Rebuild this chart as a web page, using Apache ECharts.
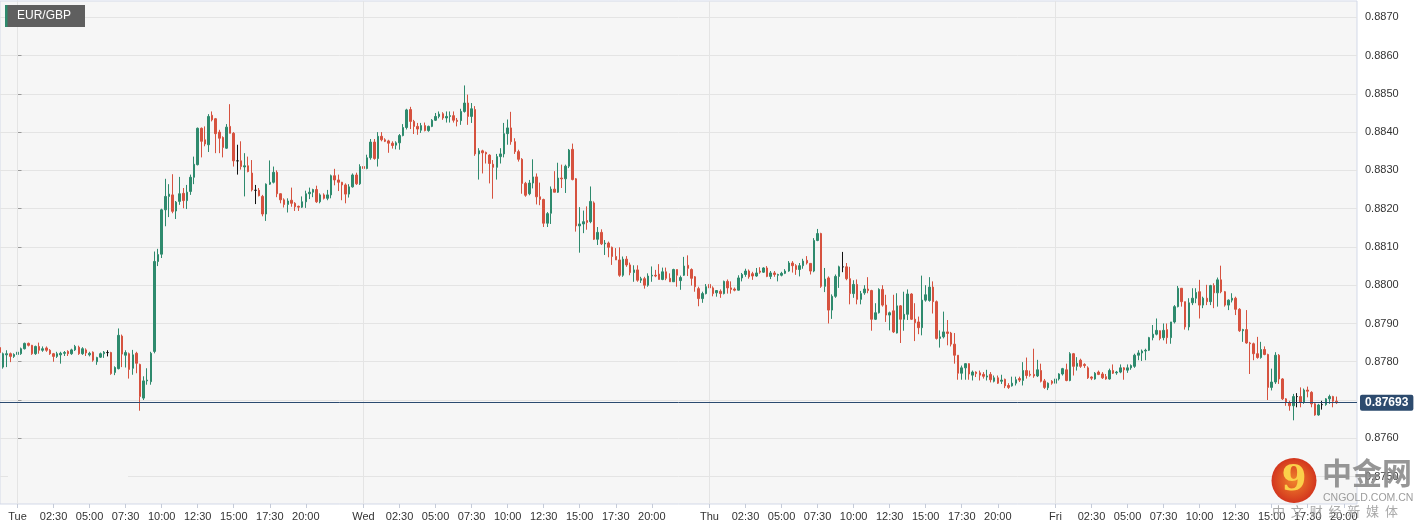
<!DOCTYPE html>
<html><head><meta charset="utf-8">
<script src="https://cdn.jsdelivr.net/npm/echarts@6/dist/echarts.min.js"></script>
<style>html,body{margin:0;padding:0;background:#fff;}#c{width:1428px;height:530px;}</style>
</head><body><div id="c"></div>
<script>
// EUR/GBP, 15-minute candles. x = slot index, slot 0 = Tue 00:00; first candle Mon 22:45
const symbolName = 'EUR/GBP';
const firstSlot = -5;
const opens = [
0.87837,0.87786,0.87818,0.87821,0.87814,0.87819,0.87821,0.87834,0.87848,0.87843,
0.87821,0.87840,0.87830,0.87836,0.87830,0.87821,0.87814,0.87818,0.87822,0.87827,
0.87821,0.87831,0.87838,0.87821,0.87831,0.87818,0.87825,0.87800,0.87812,0.87821,
0.87824,0.87824,0.87772,0.87782,0.87867,0.87817,0.87821,0.87783,0.87822,0.87793,
0.87705,0.87750,0.87748,0.87827,0.88062,0.88081,0.88197,0.88232,0.88236,0.88194,
0.88219,0.88240,0.88221,0.88245,0.88282,0.88315,0.88410,0.88380,0.88367,0.88444,
0.88435,0.88400,0.88386,0.88358,0.88415,0.88397,0.88325,0.88325,0.88309,0.88312,
0.88293,0.88248,0.88248,0.88232,0.88186,0.88264,0.88269,0.88295,0.88239,0.88223,
0.88211,0.88222,0.88214,0.88206,0.88204,0.88218,0.88239,0.88243,0.88250,0.88218,
0.88236,0.88227,0.88236,0.88286,0.88275,0.88269,0.88262,0.88238,0.88257,0.88288,
0.88265,0.88310,0.88305,0.88333,0.88374,0.88331,0.88389,0.88380,0.88377,0.88371,
0.88366,0.88372,0.88391,0.88412,0.88459,0.88428,0.88415,0.88405,0.88417,0.88404,
0.88415,0.88431,0.88441,0.88448,0.88437,0.88441,0.88443,0.88431,0.88430,0.88454,
0.88476,0.88441,0.88459,0.88343,0.88351,0.88347,0.88340,0.88316,0.88308,0.88336,
0.88343,0.88396,0.88411,0.88375,0.88349,0.88329,0.88266,0.88239,0.88267,0.88283,
0.88231,0.88224,0.88162,0.88188,0.88251,0.88243,0.88280,0.88278,0.88311,0.88355,
0.88278,0.88155,0.88160,0.88169,0.88166,0.88215,0.88120,0.88138,0.88108,0.88110,
0.88099,0.88075,0.88066,0.88026,0.88068,0.88053,0.88033,0.88040,0.88013,0.88017,
0.88000,0.88024,0.88026,0.88029,0.88015,0.88035,0.88018,0.88009,0.88041,0.88012,
0.88026,0.88052,0.88041,0.88022,0.87991,0.87965,0.87978,0.88002,0.87993,0.87980,
0.87984,0.87978,0.88010,0.87993,0.87990,0.87987,0.88019,0.88028,0.88037,0.88030,
0.88024,0.88037,0.88034,0.88045,0.88023,0.88032,0.88026,0.88026,0.88031,0.88037,
0.88058,0.88051,0.88041,0.88051,0.88065,0.88057,0.88037,0.88117,0.88135,0.87997,
0.88019,0.87935,0.87971,0.88023,0.88048,0.88048,0.88017,0.87978,0.88002,0.87963,
0.87980,0.87990,0.87986,0.87911,0.87928,0.87989,0.87948,0.87922,0.87933,0.87875,
0.87946,0.87911,0.87924,0.87977,0.87911,0.87904,0.87889,0.87961,0.87960,0.87995,
0.87957,0.87861,0.87865,0.87878,0.87875,0.87846,0.87817,0.87770,0.87784,0.87795,
0.87765,0.87773,0.87771,0.87767,0.87760,0.87767,0.87749,0.87758,0.87749,0.87754,
0.87738,0.87737,0.87744,0.87756,0.87751,0.87777,0.87767,0.87767,0.87763,0.87777,
0.87750,0.87732,0.87749,0.87744,0.87755,0.87768,0.87779,0.87751,0.87821,0.87788,
0.87804,0.87793,0.87784,0.87760,0.87755,0.87773,0.87768,0.87761,0.87755,0.87777,
0.87771,0.87773,0.87784,0.87778,0.87784,0.87788,0.87817,0.87823,0.87828,0.87830,
0.87863,0.87872,0.87881,0.87863,0.87884,0.87863,0.87904,0.87944,0.87992,0.87957,
0.87891,0.87954,0.87966,0.87983,0.87948,0.87966,0.87957,0.87999,0.87980,0.88014,
0.87983,0.87948,0.87961,0.87966,0.87937,0.87881,0.87884,0.87849,0.87847,0.87821,
0.87811,0.87832,0.87819,0.87733,0.87747,0.87817,0.87755,0.87703,0.87693,0.87685,
0.87709,0.87709,0.87694,0.87726,0.87720,0.87690,0.87661,0.87688,0.87688,0.87703,
0.87709,0.87697];
const closes = [
0.87824,0.87821,0.87821,0.87814,0.87819,0.87825,0.87834,0.87848,0.87843,0.87821,
0.87840,0.87830,0.87834,0.87830,0.87821,0.87814,0.87821,0.87822,0.87824,0.87821,
0.87831,0.87840,0.87821,0.87834,0.87823,0.87822,0.87804,0.87811,0.87821,0.87825,
0.87824,0.87769,0.87785,0.87869,0.87820,0.87824,0.87780,0.87818,0.87796,0.87709,
0.87750,0.87752,0.87822,0.88062,0.88080,0.88197,0.88232,0.88238,0.88193,0.88217,
0.88239,0.88221,0.88243,0.88282,0.88316,0.88410,0.88376,0.88369,0.88441,0.88432,
0.88396,0.88384,0.88360,0.88413,0.88397,0.88325,0.88325,0.88310,0.88312,0.88297,
0.88249,0.88248,0.88234,0.88186,0.88264,0.88269,0.88295,0.88239,0.88223,0.88211,
0.88220,0.88214,0.88205,0.88204,0.88218,0.88239,0.88243,0.88250,0.88218,0.88236,
0.88227,0.88236,0.88286,0.88275,0.88269,0.88262,0.88238,0.88257,0.88288,0.88265,
0.88310,0.88305,0.88333,0.88374,0.88331,0.88389,0.88380,0.88376,0.88371,0.88365,
0.88372,0.88391,0.88412,0.88458,0.88428,0.88415,0.88408,0.88417,0.88404,0.88415,
0.88431,0.88441,0.88447,0.88437,0.88441,0.88443,0.88431,0.88428,0.88454,0.88476,
0.88441,0.88461,0.88343,0.88351,0.88346,0.88343,0.88318,0.88308,0.88336,0.88343,
0.88396,0.88411,0.88375,0.88349,0.88329,0.88266,0.88235,0.88267,0.88283,0.88231,
0.88224,0.88162,0.88187,0.88251,0.88243,0.88280,0.88278,0.88311,0.88353,0.88276,
0.88155,0.88160,0.88166,0.88164,0.88219,0.88120,0.88138,0.88108,0.88110,0.88099,
0.88075,0.88066,0.88026,0.88068,0.88053,0.88033,0.88040,0.88013,0.88017,0.88000,
0.88024,0.88026,0.88024,0.88015,0.88035,0.88018,0.88009,0.88041,0.88026,0.88020,
0.88050,0.88044,0.88018,0.87996,0.87965,0.87978,0.87996,0.87993,0.87978,0.87986,
0.87978,0.88010,0.87993,0.87989,0.87987,0.88019,0.88028,0.88037,0.88022,0.88024,
0.88032,0.88034,0.88045,0.88023,0.88032,0.88028,0.88028,0.88031,0.88037,0.88058,
0.88051,0.88041,0.88051,0.88063,0.88058,0.88037,0.88117,0.88135,0.87997,0.88016,
0.87935,0.87971,0.88023,0.88048,0.88048,0.88017,0.87978,0.88002,0.87963,0.87978,
0.87990,0.87986,0.87911,0.87928,0.87989,0.87948,0.87922,0.87928,0.87878,0.87946,
0.87911,0.87924,0.87977,0.87911,0.87902,0.87889,0.87961,0.87975,0.87995,0.87957,
0.87861,0.87865,0.87878,0.87874,0.87846,0.87817,0.87770,0.87784,0.87795,0.87768,
0.87773,0.87769,0.87765,0.87762,0.87763,0.87753,0.87758,0.87744,0.87752,0.87737,
0.87733,0.87744,0.87753,0.87752,0.87777,0.87764,0.87765,0.87763,0.87779,0.87749,
0.87733,0.87744,0.87744,0.87755,0.87768,0.87782,0.87751,0.87821,0.87788,0.87796,
0.87788,0.87790,0.87758,0.87757,0.87770,0.87767,0.87758,0.87755,0.87777,0.87770,
0.87773,0.87784,0.87779,0.87784,0.87790,0.87817,0.87823,0.87828,0.87830,0.87863,
0.87872,0.87882,0.87861,0.87882,0.87863,0.87904,0.87944,0.87992,0.87957,0.87891,
0.87954,0.87966,0.87981,0.87948,0.87966,0.87957,0.87999,0.87980,0.88014,0.87983,
0.87948,0.87961,0.87966,0.87937,0.87881,0.87884,0.87849,0.87847,0.87821,0.87811,
0.87832,0.87819,0.87733,0.87747,0.87817,0.87755,0.87703,0.87694,0.87685,0.87709,
0.87709,0.87694,0.87726,0.87723,0.87690,0.87661,0.87687,0.87688,0.87703,0.87709,
0.87697,0.87693];
const lows = [
0.87820,0.87782,0.87786,0.87799,0.87810,0.87815,0.87818,0.87832,0.87840,0.87818,
0.87818,0.87821,0.87826,0.87826,0.87818,0.87800,0.87810,0.87795,0.87815,0.87815,
0.87818,0.87828,0.87818,0.87818,0.87815,0.87814,0.87800,0.87792,0.87810,0.87810,
0.87814,0.87766,0.87765,0.87780,0.87786,0.87785,0.87756,0.87766,0.87770,0.87672,
0.87700,0.87740,0.87740,0.87822,0.88050,0.88071,0.88154,0.88178,0.88188,0.88173,
0.88210,0.88201,0.88199,0.88236,0.88264,0.88313,0.88334,0.88363,0.88348,0.88428,
0.88345,0.88345,0.88334,0.88356,0.88397,0.88310,0.88289,0.88302,0.88232,0.88295,
0.88245,0.88212,0.88232,0.88180,0.88168,0.88262,0.88266,0.88230,0.88214,0.88203,
0.88190,0.88205,0.88194,0.88194,0.88202,0.88202,0.88225,0.88230,0.88215,0.88214,
0.88224,0.88222,0.88227,0.88261,0.88246,0.88222,0.88214,0.88229,0.88255,0.88262,
0.88262,0.88288,0.88303,0.88328,0.88328,0.88310,0.88376,0.88374,0.88346,0.88357,
0.88355,0.88354,0.88389,0.88407,0.88408,0.88395,0.88393,0.88398,0.88402,0.88401,
0.88413,0.88429,0.88436,0.88432,0.88425,0.88425,0.88425,0.88415,0.88419,0.88451,
0.88419,0.88424,0.88338,0.88276,0.88292,0.88318,0.88266,0.88226,0.88276,0.88318,
0.88334,0.88367,0.88367,0.88343,0.88323,0.88239,0.88231,0.88235,0.88253,0.88211,
0.88209,0.88152,0.88152,0.88160,0.88243,0.88241,0.88254,0.88241,0.88306,0.88274,
0.88140,0.88085,0.88136,0.88145,0.88162,0.88118,0.88105,0.88105,0.88079,0.88073,
0.88053,0.88066,0.88022,0.88022,0.88048,0.88026,0.88009,0.88009,0.88006,0.87991,
0.87996,0.88009,0.88021,0.88015,0.88013,0.88013,0.88009,0.88009,0.87996,0.87988,
0.88024,0.88024,0.87999,0.87983,0.87945,0.87954,0.87976,0.87971,0.87971,0.87970,
0.87967,0.87976,0.87978,0.87978,0.87984,0.87986,0.88010,0.88022,0.88017,0.88014,
0.88022,0.88030,0.88032,0.88021,0.88016,0.88022,0.88010,0.88023,0.88029,0.88035,
0.88033,0.88027,0.88023,0.88043,0.88054,0.88028,0.88034,0.88115,0.87993,0.87982,
0.87900,0.87912,0.87967,0.87993,0.88034,0.88013,0.87950,0.87967,0.87950,0.87950,
0.87975,0.87979,0.87881,0.87909,0.87926,0.87944,0.87904,0.87882,0.87875,0.87874,
0.87849,0.87881,0.87909,0.87909,0.87854,0.87872,0.87869,0.87957,0.87957,0.87926,
0.87858,0.87837,0.87861,0.87843,0.87840,0.87795,0.87753,0.87753,0.87753,0.87753,
0.87751,0.87760,0.87751,0.87756,0.87751,0.87746,0.87746,0.87742,0.87742,0.87731,
0.87729,0.87735,0.87738,0.87747,0.87738,0.87756,0.87761,0.87758,0.87760,0.87746,
0.87729,0.87726,0.87740,0.87742,0.87751,0.87764,0.87749,0.87749,0.87764,0.87777,
0.87784,0.87784,0.87755,0.87752,0.87753,0.87765,0.87755,0.87753,0.87753,0.87768,
0.87766,0.87770,0.87753,0.87771,0.87779,0.87784,0.87804,0.87802,0.87804,0.87828,
0.87856,0.87869,0.87856,0.87856,0.87847,0.87847,0.87900,0.87942,0.87944,0.87884,
0.87882,0.87948,0.87953,0.87913,0.87940,0.87948,0.87948,0.87940,0.87944,0.87979,
0.87944,0.87935,0.87955,0.87922,0.87878,0.87852,0.87847,0.87768,0.87804,0.87808,
0.87808,0.87817,0.87700,0.87725,0.87742,0.87742,0.87700,0.87685,0.87672,0.87647,
0.87681,0.87681,0.87690,0.87707,0.87681,0.87659,0.87659,0.87675,0.87685,0.87690,
0.87681,0.87690];
const highs = [
0.87840,0.87824,0.87830,0.87824,0.87822,0.87830,0.87837,0.87850,0.87850,0.87844,
0.87842,0.87850,0.87840,0.87840,0.87833,0.87823,0.87826,0.87826,0.87828,0.87830,
0.87834,0.87844,0.87842,0.87838,0.87835,0.87826,0.87827,0.87813,0.87824,0.87828,
0.87830,0.87826,0.87788,0.87887,0.87871,0.87830,0.87824,0.87831,0.87826,0.87795,
0.87762,0.87783,0.87826,0.88088,0.88095,0.88200,0.88278,0.88264,0.88290,0.88220,
0.88283,0.88254,0.88262,0.88289,0.88336,0.88412,0.88412,0.88415,0.88447,0.88454,
0.88437,0.88406,0.88389,0.88421,0.88473,0.88400,0.88367,0.88376,0.88345,0.88336,
0.88327,0.88262,0.88254,0.88236,0.88266,0.88326,0.88310,0.88300,0.88240,0.88227,
0.88227,0.88255,0.88217,0.88208,0.88232,0.88247,0.88255,0.88252,0.88260,0.88240,
0.88240,0.88249,0.88289,0.88304,0.88289,0.88270,0.88266,0.88264,0.88292,0.88294,
0.88316,0.88322,0.88341,0.88382,0.88382,0.88400,0.88400,0.88384,0.88380,0.88376,
0.88376,0.88395,0.88421,0.88461,0.88466,0.88432,0.88424,0.88424,0.88425,0.88417,
0.88434,0.88450,0.88454,0.88452,0.88454,0.88454,0.88454,0.88437,0.88461,0.88522,
0.88498,0.88476,0.88468,0.88358,0.88354,0.88349,0.88342,0.88327,0.88343,0.88358,
0.88424,0.88433,0.88453,0.88384,0.88354,0.88332,0.88270,0.88275,0.88329,0.88292,
0.88268,0.88226,0.88191,0.88258,0.88298,0.88320,0.88315,0.88315,0.88356,0.88370,
0.88280,0.88204,0.88195,0.88206,0.88258,0.88219,0.88152,0.88146,0.88118,0.88114,
0.88101,0.88097,0.88099,0.88075,0.88076,0.88059,0.88052,0.88052,0.88022,0.88022,
0.88031,0.88049,0.88040,0.88055,0.88046,0.88046,0.88031,0.88043,0.88041,0.88025,
0.88074,0.88078,0.88044,0.88024,0.87996,0.87983,0.88003,0.88015,0.87997,0.87987,
0.87989,0.88012,0.88015,0.88010,0.87994,0.88026,0.88032,0.88043,0.88041,0.88035,
0.88045,0.88047,0.88047,0.88050,0.88037,0.88037,0.88030,0.88035,0.88042,0.88063,
0.88063,0.88055,0.88058,0.88069,0.88076,0.88058,0.88123,0.88147,0.88137,0.88045,
0.88023,0.87976,0.88028,0.88051,0.88087,0.88058,0.88048,0.88013,0.88015,0.87985,
0.88000,0.88021,0.87988,0.87953,0.87992,0.88000,0.87975,0.87931,0.87975,0.87979,
0.87948,0.87983,0.87989,0.87979,0.87953,0.87918,0.88025,0.88000,0.88021,0.88010,
0.87960,0.87882,0.87931,0.87909,0.87878,0.87875,0.87817,0.87790,0.87796,0.87796,
0.87777,0.87775,0.87777,0.87773,0.87779,0.87773,0.87764,0.87764,0.87766,0.87756,
0.87744,0.87761,0.87761,0.87761,0.87799,0.87811,0.87777,0.87834,0.87805,0.87795,
0.87755,0.87746,0.87752,0.87777,0.87770,0.87784,0.87795,0.87825,0.87823,0.87812,
0.87808,0.87796,0.87788,0.87762,0.87773,0.87777,0.87773,0.87768,0.87782,0.87793,
0.87776,0.87793,0.87786,0.87793,0.87793,0.87821,0.87830,0.87832,0.87834,0.87865,
0.87896,0.87913,0.87882,0.87900,0.87900,0.87904,0.87948,0.87998,0.87992,0.87957,
0.87966,0.87992,0.87992,0.88014,0.87970,0.88001,0.88001,0.88005,0.88020,0.88051,
0.87985,0.87963,0.87979,0.87970,0.87940,0.87886,0.87935,0.87852,0.87850,0.87865,
0.87852,0.87840,0.87821,0.87782,0.87825,0.87820,0.87757,0.87705,0.87698,0.87716,
0.87718,0.87733,0.87730,0.87735,0.87723,0.87692,0.87690,0.87698,0.87705,0.87714,
0.87711,0.87709];
const lastPrice = 0.87693;
const dayLabels = ['Tue', 'Wed', 'Thu', 'Fri'];
const timeLabels = ['02:30', '05:00', '07:30', '10:00', '12:30', '15:00', '17:30', '20:00'];
const priceTicks = [0.8750, 0.8760, 0.8770, 0.8780, 0.8790, 0.8800, 0.8810, 0.8820, 0.8830, 0.8840, 0.8850, 0.8860, 0.8870];

// ---- build axis ticks from the label lists ----
const SLOTS_PER_DAY = 96;
const tickVals = [], tickText = {};
dayLabels.forEach((d, di) => {
  const base = di * SLOTS_PER_DAY;
  tickVals.push(base); tickText[base] = d;
  timeLabels.forEach(t => {
    const [hh, mm] = t.split(':').map(Number);
    const v = base + (hh * 60 + mm) / 15;
    tickVals.push(v); tickText[v] = t;
  });
});
const dayStarts = dayLabels.map((d, di) => di * SLOTS_PER_DAY);

const candles = opens.map((o, i) => [firstSlot + i, o, closes[i], lows[i], highs[i]]);

const UP = '#2e8a6d', DOWN = '#d6523f';
const FONT = '"Liberation Sans", Arial, Helvetica, sans-serif';

const chart = echarts.init(document.getElementById('c'), null, {renderer: 'canvas'});
chart.setOption({
  animation: false,
  backgroundColor: '#ffffff',
  grid: {left: 0, right: 71, top: 1, bottom: 26, show: true, backgroundColor: '#f6f6f6', borderColor: '#d3d9e8', borderWidth: 1},
  xAxis: {
    type: 'value', min: -4.856, max: 371.67,
    axisLine: {show: false},
    axisTick: {show: true, customValues: tickVals, length: 4, lineStyle: {color: '#c5cbd8'}},
    axisLabel: {customValues: tickVals, formatter: v => tickText[v] || '', color: '#333', fontSize: 11, fontFamily: FONT, margin: 7},
    splitLine: {show: false}
  },
  yAxis: {
    type: 'value', position: 'right', min: 0.874283, max: 0.887426,
    axisLine: {show: true, lineStyle: {color: '#d3d9e8'}},
    axisTick: {show: true, customValues: priceTicks, length: 4, lineStyle: {color: '#999'}},
    axisLabel: {customValues: priceTicks, formatter: v => v.toFixed(4), color: '#333', fontSize: 11, fontFamily: FONT, margin: 8},
    splitLine: {show: true, lineStyle: {color: '#e4e4e4', width: 1}}
  },
  series: [
    {
      type: 'line', data: [], z: 1, silent: true,
      markLine: {
        silent: true, symbol: ['none', 'none'], animation: false,
        label: {show: false},
        lineStyle: {color: '#e4e4e4', type: 'solid', width: 1},
        data: dayStarts.map(v => ({xAxis: v}))
      }
    },
    {
      type: 'candlestick', z: 3,
      data: candles,
      encode: {x: 0, y: [1, 2, 3, 4]},
      barWidth: 2,
      itemStyle: {color: UP, color0: DOWN, borderColor: UP, borderColor0: DOWN, borderColorDoji: '#111', borderWidth: 1}
    },
    {
      type: 'line', data: [], z: 5, silent: true,
      markLine: {
        silent: true, symbol: ['none', 'none'], animation: false, precision: 5,
        data: [{
          yAxis: lastPrice,
          lineStyle: {color: '#2b4a70', width: 1, type: 'solid'},
          label: {show: true, position: 'end', formatter: () => lastPrice.toFixed(5), backgroundColor: '#2d4b6e', color: '#fff', fontWeight: 'bold', fontSize: 12, fontFamily: FONT, padding: [2, 5, 2, 5], borderRadius: 2, distance: 3}
        }]
      }
    }
  ],
  graphic: [
    {type: 'rect', z: 2, shape: {x: 8, y: 447, width: 120, height: 40}, style: {fill: '#f6f6f6'}},
    {type: 'rect', left: 5, top: 5, z: 100, shape: {width: 80, height: 22}, style: {fill: '#5f5f5f'}},
    {type: 'rect', left: 5, top: 5, z: 101, shape: {width: 2.5, height: 22}, style: {fill: UP}},
    {type: 'text', left: 17, top: 10, z: 101, style: {text: symbolName, fill: '#fff', font: '12px ' + FONT}},
    {type: 'circle', z: 100, shape: {cx: 1294, cy: 480.5, r: 22.5}, style: {fill: {type: 'radial', x: 0.5, y: 0.5, r: 0.5, colorStops: [{offset: 0, color: '#f0832c'}, {offset: 1, color: '#d3361e'}]}}},
    {type: 'text', z: 101, style: {x: 1294, y: 481, text: '9', align: 'center', verticalAlign: 'middle', fill: '#fbd04a', font: 'bold 36px "DejaVu Serif", serif'}},
    {type: 'text', z: 100, style: {x: 1322, y: 458, text: '中金网', align: 'left', verticalAlign: 'top', fill: 'rgba(135,135,135,0.88)', font: 'bold 30px "Noto Sans CJK SC"'}},
    {type: 'text', z: 100, style: {x: 1323, y: 493, text: 'CNGOLD.COM.CN', align: 'left', verticalAlign: 'top', fill: '#9c9c9c', font: '10.5px ' + FONT}},
    {type: 'text', z: 100, style: {x: 1272, y: 505, text: '中  文  财  经  新  媒  体', align: 'left', verticalAlign: 'top', fill: 'rgba(160,160,160,0.9)', font: '13px "Noto Sans CJK SC"'}}
  ]
});
</script>
</body></html>
